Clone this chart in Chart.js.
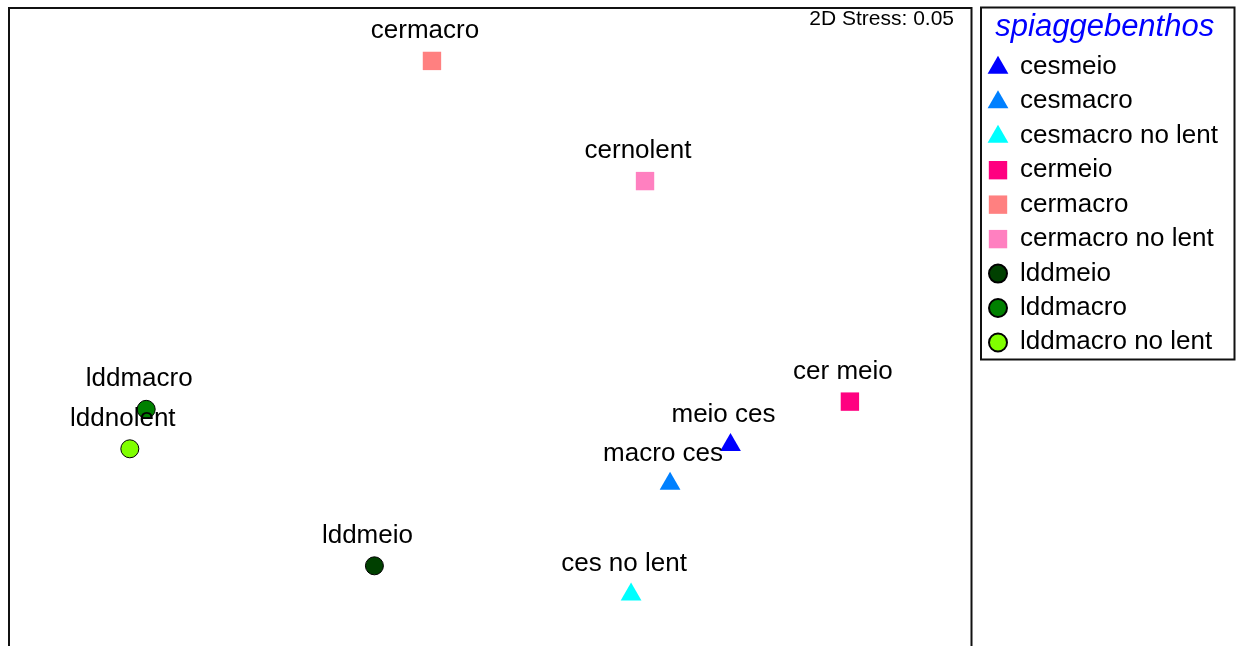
<!DOCTYPE html>
<html>
<head>
<meta charset="utf-8">
<title>spiaggebenthos MDS</title>
<script src="https://cdn.jsdelivr.net/npm/chart.js@4.4.1/dist/chart.umd.min.js"></script>
<style>
  html, body { margin: 0; padding: 0; background: #fff; }
  #wrap { position: relative; width: 1236px; height: 646px; overflow: hidden; }
</style>
</head>
<body>
<div id="wrap"><canvas id="mds" width="1236" height="646"></canvas></div>
<script>
// groups shown in the legend, in legend order
const groups = ['cesmeio', 'cesmacro', 'cesmacro no lent', 'cermeio', 'cermacro',
    'cermacro no lent', 'lddmeio', 'lddmacro', 'lddmacro no lent'];
// sample name printed next to each point
const sampleNames = ['meio ces', 'macro ces', 'ces no lent', 'cer meio', 'cermacro',
    'cernolent', 'lddmeio', 'lddmacro', 'lddnolent'];
// MDS coordinates
const mdsX = [1.001, 0.750, 0.588, 1.497, -0.239, 0.646, -0.478, -1.426, -1.494];
const mdsY = [-0.489, -0.650, -1.110, -0.309, 1.106, 0.607, -0.991, -0.341, -0.505];
const stress = 0.05;
const legendTitle = 'spiaggebenthos';

// marker look per group
const shapes = ['triangle', 'triangle', 'triangle', 'rect', 'rect', 'rect', 'circle', 'circle', 'circle'];
const colors = ['#0000ff', '#0080ff', '#00ffff', '#ff0080', '#ff8080', '#ff80c0', '#004000', '#008000', '#80ff00'];

const FONT = '"Liberation Sans", Arial, sans-serif';

function markerRadius(shape) {
    if (shape === 'triangle') return 12;
    if (shape === 'rect') return 13;
    return 9;
}

const datasets = groups.map((g, i) => ({
    label: g,
    data: [{ x: mdsX[i], y: mdsY[i] }],
    pointStyle: shapes[i],
    pointRadius: markerRadius(shapes[i]),
    backgroundColor: colors[i],
    borderColor: '#000',
    borderWidth: shapes[i] === 'circle' ? 1 : 0
}));

// frame round the plot, stress note and the sample labels
const plotDecor = {
    id: 'plotDecor',
    afterDatasetsDraw(chart) {
        const ctx = chart.ctx;
        const area = chart.chartArea;
        ctx.save();

        ctx.font = '26px ' + FONT;
        ctx.fillStyle = '#000';
        ctx.textAlign = 'center';
        ctx.textBaseline = 'alphabetic';
        chart.data.datasets.forEach((ds, i) => {
            const pt = chart.getDatasetMeta(i).data[0];
            ctx.fillText(sampleNames[i], pt.x - 7, pt.y - 23);
        });

        ctx.font = '21px ' + FONT;
        ctx.textAlign = 'right';
        ctx.fillText('2D Stress: ' + stress.toFixed(2), area.right - 17, area.top + 18);

        ctx.strokeStyle = '#111';
        ctx.lineWidth = 2;
        ctx.beginPath();
        ctx.moveTo(area.left + 1, area.bottom + 5);
        ctx.lineTo(area.left + 1, area.top + 1);
        ctx.lineTo(area.right + 0.5, area.top + 1);
        ctx.lineTo(area.right + 0.5, area.bottom + 5);
        ctx.stroke();
        ctx.restore();
    }
};

// legend box to the right of the plot
const sideLegend = {
    id: 'sideLegend',
    afterDraw(chart) {
        const ctx = chart.ctx;
        const left = chart.chartArea.right + 10;
        const top = 7.5;
        const width = 253.5;
        const height = 352;
        ctx.save();
        ctx.strokeStyle = '#111';
        ctx.lineWidth = 2;
        ctx.strokeRect(left, top, width, height);

        ctx.font = 'italic 31px ' + FONT;
        ctx.fillStyle = '#0000ff';
        ctx.textAlign = 'center';
        ctx.textBaseline = 'alphabetic';
        ctx.fillText(legendTitle, left + width / 2 - 3, 36);

        ctx.font = '26px ' + FONT;
        ctx.textAlign = 'left';
        chart.data.datasets.forEach((ds, i) => {
            const cy = 66.8 + i * 34.46;
            const cx = left + 17;
            ctx.fillStyle = ds.backgroundColor;
            ctx.strokeStyle = '#000';
            Chart.helpers.drawPoint(ctx, {
                pointStyle: ds.pointStyle,
                radius: ds.pointRadius,
                rotation: 0,
                borderWidth: ds.borderWidth
            }, cx, ds.pointStyle === 'triangle' ? cy + 1 : cy);
            ctx.fillStyle = '#000';
            ctx.fillText(ds.label, left + 39, cy + 7);
        });
        ctx.restore();
    }
};

new Chart(document.getElementById('mds'), {
    type: 'scatter',
    data: { datasets },
    options: {
        responsive: false,
        animation: false,
        layout: { autoPadding: false, padding: { left: 8, top: 7, right: 265, bottom: 0 } },
        scales: {
            x: { type: 'linear', min: -2, max: 2, display: false },
            y: { type: 'linear', min: -1.324, max: 1.33, display: false }
        },
        plugins: {
            legend: { display: false },
            tooltip: { enabled: false }
        }
    },
    plugins: [plotDecor, sideLegend]
});
</script>
</body>
</html>
